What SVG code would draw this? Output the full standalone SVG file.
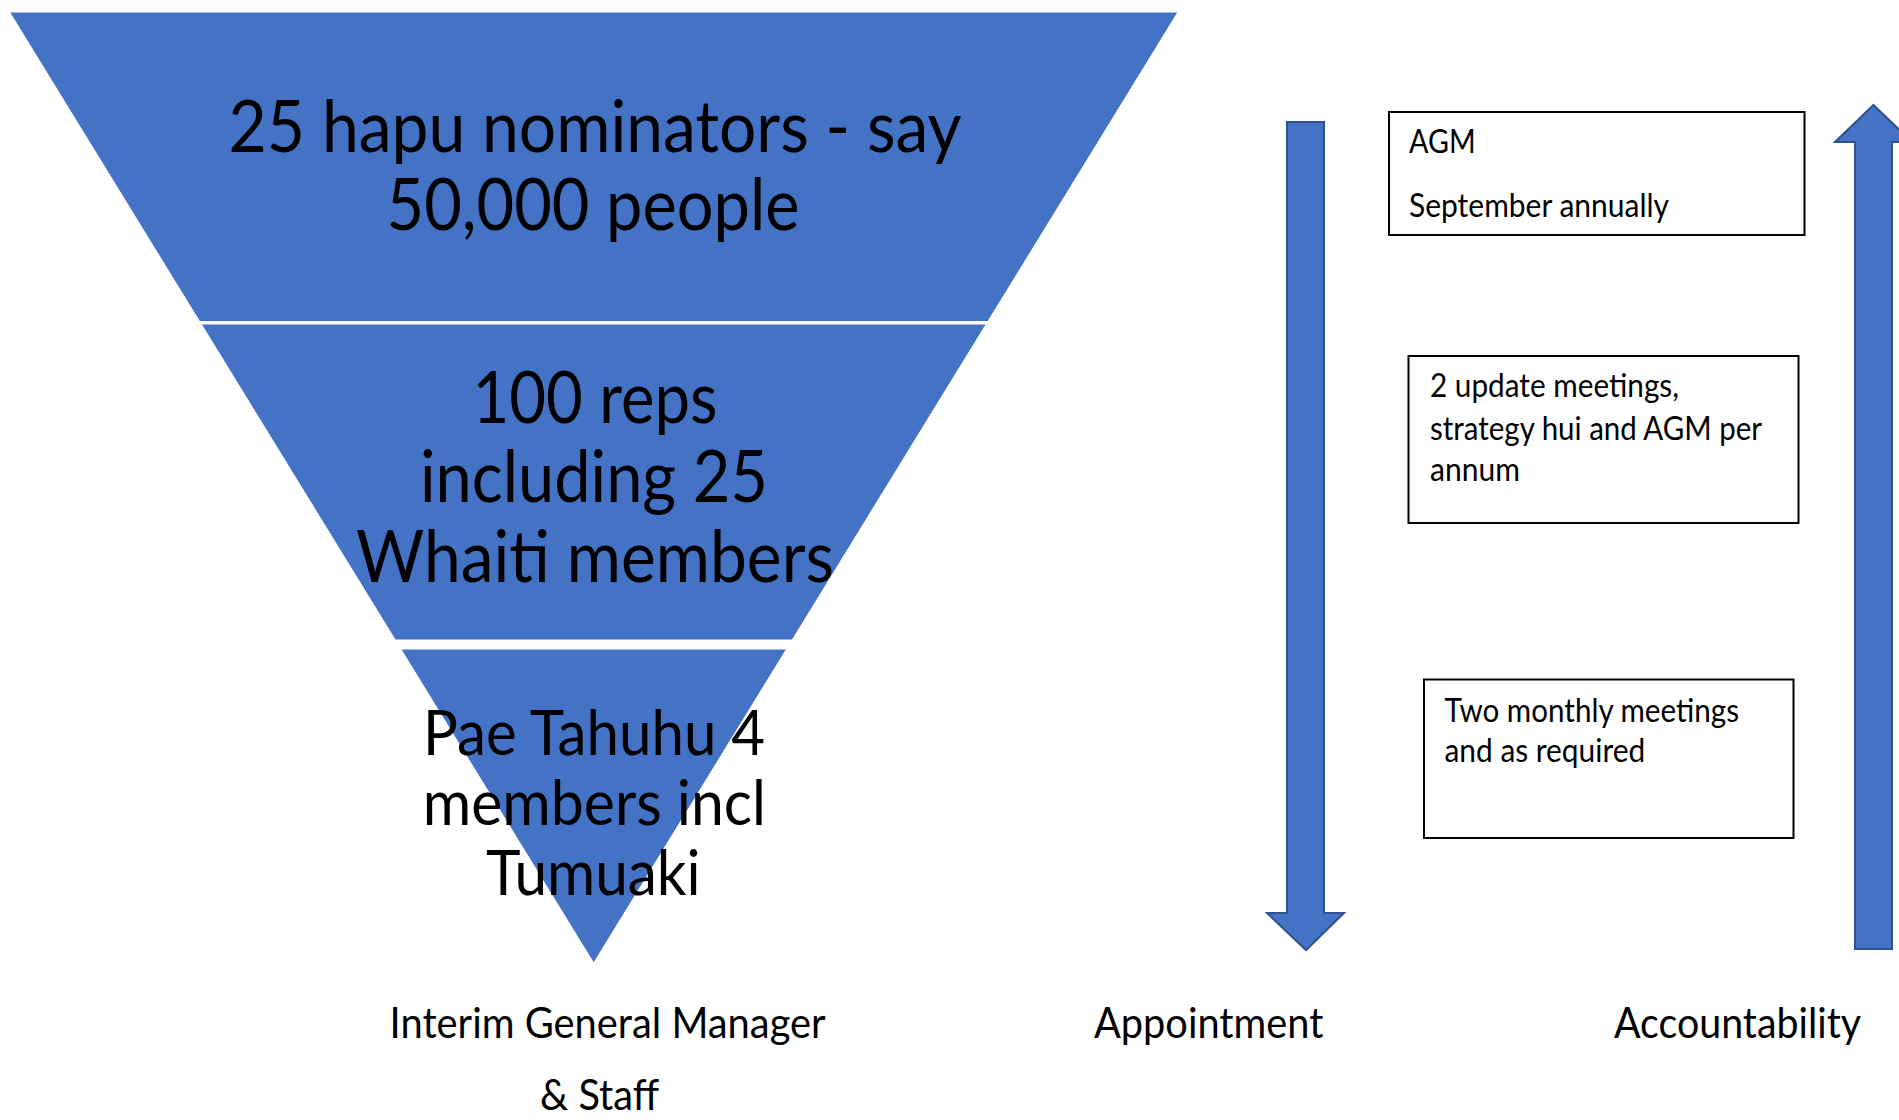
<svg xmlns="http://www.w3.org/2000/svg" width="1899" height="1120" viewBox="0 0 1899 1120">
<style>
.layer{fill:#4472C4;stroke:#ffffff;stroke-width:1}
.big{font-family:Lato,"Open Sans","Liberation Sans",sans-serif;font-size:72px;fill:#000;text-anchor:middle}
.mid{font-family:Lato,"Open Sans","Liberation Sans",sans-serif;font-size:62px;fill:#000;text-anchor:middle}
.lbl{font-family:Lato,"Open Sans","Liberation Sans",sans-serif;font-size:42.7px;fill:#000;text-anchor:middle}
.box{fill:#ffffff;stroke:#000;stroke-width:2}
.bt{font-family:Lato,"Open Sans","Liberation Sans",sans-serif;font-size:32px;fill:#000}
.arrow{fill:#4472C4;stroke:#2F528F;stroke-width:2}
</style>
<rect width="1899" height="1120" fill="#ffffff"/>
<g id="layer-top">
<polygon class="layer" points="9.5,12 1178,12 987.9,321.5 199.6,321.5"/>
<text class="big" x="595" y="151.7" textLength="733" lengthAdjust="spacingAndGlyphs">25 hapu nominators - say</text>
<text class="big" x="593" y="230" textLength="413" lengthAdjust="spacingAndGlyphs">50,000 people</text>
</g>
<g id="layer-middle">
<polygon class="layer" points="201.2,324 986.3,324 792.2,640 395.3,640"/>
<text class="big" x="595" y="423.3" textLength="245" lengthAdjust="spacingAndGlyphs">100 reps</text>
<text class="big" x="594" y="502.3" textLength="348" lengthAdjust="spacingAndGlyphs">including 25</text>
<text class="big" x="595" y="581.7" textLength="478" lengthAdjust="spacingAndGlyphs">Whaiti members</text>
</g>
<g id="layer-bottom">
<polygon class="layer" points="400.8,649 786.6,649 593.7,963"/>
<text class="mid" x="594" y="755" textLength="342" lengthAdjust="spacingAndGlyphs">Pae Tahuhu 4</text>
<text class="mid" x="594.3" y="825" textLength="343" lengthAdjust="spacingAndGlyphs">members incl</text>
<text class="mid" x="593.3" y="895" textLength="214.7" lengthAdjust="spacingAndGlyphs">Tumuaki</text>
</g>
<g id="label-manager">
<text class="lbl" x="607.6" y="1038" textLength="436" lengthAdjust="spacingAndGlyphs">Interim General Manager</text>
<text class="lbl" x="599.6" y="1110" textLength="119" lengthAdjust="spacingAndGlyphs">&amp; Staff</text>
</g>
<g id="label-appointment">
<text class="lbl" x="1208.7" y="1038" textLength="229.5" lengthAdjust="spacingAndGlyphs">Appointment</text>
</g>
<g id="label-accountability">
<text class="lbl" x="1737.5" y="1038" textLength="247" lengthAdjust="spacingAndGlyphs">Accountability</text>
</g>
<g id="box-agm">
<rect class="box" x="1389" y="112" width="415.5" height="123"/>
<text class="bt" x="1409" y="153.3" textLength="66.6" lengthAdjust="spacingAndGlyphs">AGM</text>
<text class="bt" x="1409" y="216.7" textLength="260" lengthAdjust="spacingAndGlyphs">September annually</text>
</g>
<g id="box-update">
<rect class="box" x="1408.5" y="356" width="390" height="167"/>
<text class="bt" x="1430" y="397" textLength="249" lengthAdjust="spacingAndGlyphs">2 update meetings,</text>
<text class="bt" x="1430" y="439.5" textLength="332" lengthAdjust="spacingAndGlyphs">strategy hui and AGM per</text>
<text class="bt" x="1430" y="480.5" textLength="90" lengthAdjust="spacingAndGlyphs">annum</text>
</g>
<g id="box-monthly">
<rect class="box" x="1424" y="679.5" width="369.5" height="158.5"/>
<text class="bt" x="1444.5" y="721.5" textLength="294.5" lengthAdjust="spacingAndGlyphs">Two monthly meetings</text>
<text class="bt" x="1444.5" y="762" textLength="200.7" lengthAdjust="spacingAndGlyphs">and as required</text>
</g>
<g id="connectors">
<polygon id="arrow-appointment" class="arrow" points="1287,122 1324,122 1324,913 1344,913 1306,950 1267,913 1287,913"/>
<polygon id="arrow-accountability" class="arrow" points="1873.5,105 1912,142 1892,142 1892,949 1855,949 1855,142 1835,142"/>
</g>
</svg>
